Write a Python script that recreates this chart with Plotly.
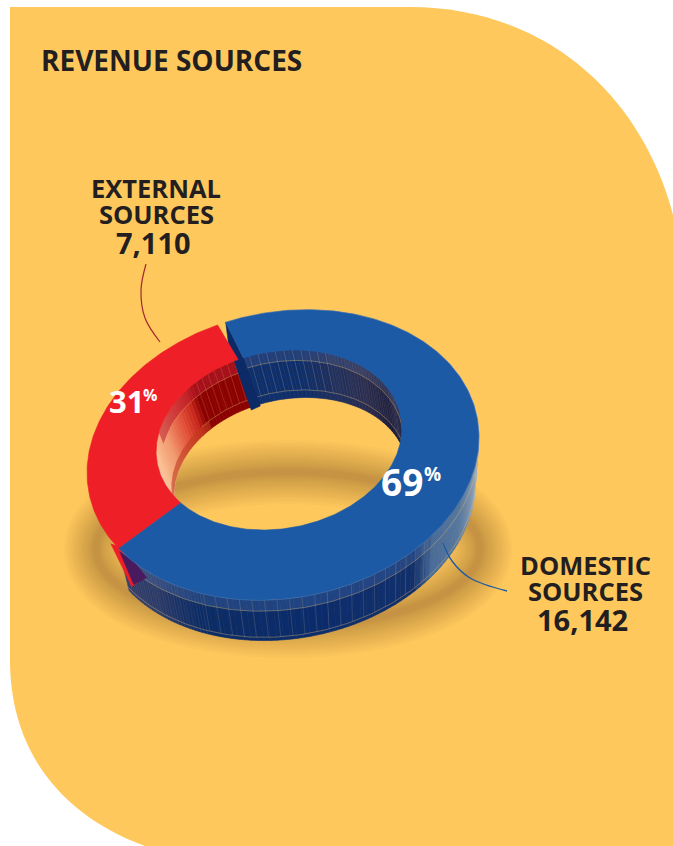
import numpy as np
import plotly.graph_objects as go

# Revenue by source
categories = ["EXTERNAL<br>SOURCES", "DOMESTIC<br>SOURCES"]
revenue = [7110, 16142]
slice_colors = ["#EE1F27", "#1C5AA6"]
title_text = "REVENUE SOURCES"

PAGE_W, PAGE_H = 673, 846
PANEL = "#FEC85D"
INK = "#231F20"

# Ring geometry: tilted ellipses for the top face and the receding lower edges
TILT = np.radians(11)
OUTER = dict(cx=283, cy=455, a=197.7, b=143)
HOLE = dict(cx=279, cy=440, a=124, b=88.5)
OUTER_LOW = dict(cx=287, cy=501, a=189.8, b=137.3)
HOLE_LOW = dict(cx=291, cy=483, a=117.8, b=84)
START_DEG = 99
SLICE_GAP_DEG = 2.5

share = [v / sum(revenue) for v in revenue]
boundary = START_DEG + share[0] * 360  # where the first slice meets the second


def warp(deg):
    # Perspective compresses the far side of the ring slightly
    d = np.asarray(deg, dtype=float)
    return d - 6 * np.sin(np.radians(d - START_DEG) / 2) ** 2


def ring_xy(e, deg, use_warp=False):
    d = warp(deg) if use_warp else np.asarray(deg, dtype=float)
    t = np.radians(d)
    u, v = e["a"] * np.cos(t), e["b"] * np.sin(t)
    x = e["cx"] + u * np.cos(TILT) - v * np.sin(TILT)
    y = e["cy"] - (u * np.sin(TILT) + v * np.cos(TILT))
    return x, y


def blend(stops, deg):
    keys = [s[0] for s in stops]
    rgb = [tuple(int(s[1][i:i + 2], 16) for i in (1, 3, 5)) for s in stops]
    order = np.argsort(keys)
    keys = np.array(keys)[order]
    chans = np.array(rgb)[order]
    c = [int(np.interp(deg, keys, chans[:, i])) for i in range(3)]
    return f"rgb({c[0]},{c[1]},{c[2]})"


fig = go.Figure()


def poly(x, y, fill, line=None, width=0.6):
    fig.add_trace(go.Scatter(x=list(x), y=list(y), mode="lines", fill="toself",
                             fillcolor=fill, line=dict(color=line or fill, width=width),
                             hoverinfo="skip", showlegend=False))


def stroke(x, y, color, width=0.7, shape="linear"):
    fig.add_trace(go.Scatter(x=list(x), y=list(y), mode="lines",
                             line=dict(color=color, width=width, shape=shape),
                             hoverinfo="skip", showlegend=False))


def wall(top, low, d0, d1, stops, step=2.0):
    # Curved side of the ring, shaded strip by strip
    ds = np.arange(d0, d1, step if d1 > d0 else -step)
    for a, b in zip(ds[:-1], ds[1:]):
        xa, ya = ring_xy(top, a); xb, yb = ring_xy(top, b)
        xc, yc = ring_xy(low, b); xd, yd = ring_xy(low, a)
        poly([xa, xb, xc, xd, xa], [ya, yb, yc, yd, ya], blend(stops, (a + b) / 2))


def band(top, low, d0, d1, f0, f1, color):
    ds = np.linspace(d0, d1, 120)
    xt, yt = ring_xy(top, ds); xl, yl = ring_xy(low, ds)
    x0, y0 = xt + (xl - xt) * f0, yt + (yl - yt) * f0
    x1, y1 = xt + (xl - xt) * f1, yt + (yl - yt) * f1
    poly(np.r_[x0, x1[::-1], x0[0]], np.r_[y0, y1[::-1], y0[0]], color, line="rgba(0,0,0,0)", width=0)


def seam(top, low, d0, d1, f, color, width=0.7):
    ds = np.linspace(d0, d1, 120)
    xt, yt = ring_xy(top, ds); xl, yl = ring_xy(low, ds)
    stroke(xt + (xl - xt) * f, yt + (yl - yt) * f, color, width)


def ticks(top, low, degs, f0, f1, color):
    xs, ys = [], []
    for d in degs:
        xt, yt = ring_xy(top, d); xl, yl = ring_xy(low, d)
        xs += [xt + (xl - xt) * f0, xt + (xl - xt) * f1, None]
        ys += [yt + (yl - yt) * f0, yt + (yl - yt) * f1, None]
    stroke(xs, ys, color, 0.6)


GOLD = "rgba(226,192,112,0.55)"

# Inner wall of the first slice, from deep red near the cut to pale peach
red_inner = [(99, "#8B0000"), (126, "#8B0000"), (132, "#C9281F"), (140, "#E2503A"),
             (155, "#F29A72"), (172, "#FBBF93"), (190, "#F7CBB0"), (218, "#F5C49A")]
wall(HOLE, HOLE_LOW, 99, 218, red_inner, step=2.0)
band(HOLE, HOLE_LOW, 99, 160, 0, 0.26, "rgba(190,30,50,0.55)")
band(HOLE, HOLE_LOW, 125, 195, 0.84, 1.0, "rgba(190,60,30,0.6)")
seam(HOLE, HOLE_LOW, 99, 150, 0.26, GOLD)
seam(HOLE, HOLE_LOW, 99, 130, 0.84, GOLD)
ticks(HOLE, HOLE_LOW, np.arange(100, 128, 3.5), 0.0, 0.84, "rgba(226,150,112,0.4)")

# Inner wall of the second slice
blue_inner = [(99, "#10306E"), (75, "#0F2F6C"), (58, "#20305E"), (40, "#2A2C50"),
              (22, "#1A1A3C"), (8, "#23264A"), (-12, "#3A3A55")]
wall(HOLE, HOLE_LOW, 100, -12, blue_inner, step=2.0)
band(HOLE, HOLE_LOW, 99, -10, 0, 0.22, "rgba(120,140,190,0.18)")
seam(HOLE, HOLE_LOW, 99, -8, 0.22, GOLD)
seam(HOLE, HOLE_LOW, 99, -8, 0.84, GOLD)
ticks(HOLE, HOLE_LOW, np.arange(60, 98, 4.0), 0.0, 0.84, "rgba(200,200,170,0.3)")
ticks(HOLE, HOLE_LOW, np.arange(12, 60, 1.6), 0.0, 0.84, "rgba(170,170,170,0.16)")

# Outer wall of the second slice, lit towards the right-hand end
blue_outer = [(25, "#D2D4DA"), (-6, "#C6CAD3"), (-18, "#8FA2BE"), (-34, "#56789F"),
              (-48, "#4A6C98"), (-56, "#12306C"), (-90, "#0B2C6C"), (-125, "#0D2C66"),
              (-140, "#2A3968"), (-155, "#303C68")]
end_deg = float(warp(boundary)) - 360
wall(OUTER, OUTER_LOW, 25, end_deg - 1, blue_outer, step=2.0)
band(OUTER, OUTER_LOW, -50, end_deg, 0, 0.27, "rgba(90,130,190,0.28)")
seam(OUTER, OUTER_LOW, -5, end_deg, 0.27, GOLD)
seam(OUTER, OUTER_LOW, -5, end_deg, 0.92, GOLD)
ticks(OUTER, OUTER_LOW, np.arange(-122, -50, 3.7), 0.0, 0.92, "rgba(210,200,160,0.28)")
ticks(OUTER, OUTER_LOW, np.arange(end_deg, -122, 1.1), 0.0, 1.0, "rgba(190,190,200,0.14)")

# Cut face where the second slice begins
cx0, cy0 = ring_xy(OUTER, START_DEG)
hx0, hy0 = ring_xy(HOLE, START_DEG)
lx0, ly0 = ring_xy(HOLE_LOW, START_DEG + 3)
poly([cx0, cx0 + 3, lx0, lx0 + 9, hx0, cx0], [cy0, cy0 + 23, ly0 + 3, ly0 - 1, hy0, cy0], "#0C2A66")

# Lower tip of the first slice, showing past the second slice's wall
rx1, ry1 = ring_xy(OUTER, boundary, use_warp=True)
poly([rx1 - 8, rx1 + 13, rx1 + 19, rx1 + 1], [ry1 - 5, ry1 + 38, ry1 + 34, ry1 - 2], slice_colors[0])
poly([rx1 + 1, rx1 + 15, rx1 + 28, rx1 + 15], [ry1 + 3, ry1 + 36, ry1 + 29, ry1 + 13], "#4A1A5E")

# Top faces of both slices
ds0 = np.linspace(START_DEG + SLICE_GAP_DEG, boundary, 120)
ox, oy = ring_xy(OUTER, ds0, True)
ix, iy = ring_xy(HOLE, ds0)
poly(np.r_[ox, ix[::-1], ox[0]], np.r_[oy, iy[::-1], oy[0]], slice_colors[0])

ds1 = np.linspace(boundary, START_DEG + 360, 300)
ox, oy = ring_xy(OUTER, ds1, True)
ix, iy = ring_xy(HOLE, ds1)
poly(np.r_[ox, ix[::-1], ox[0]], np.r_[oy, iy[::-1], oy[0]], slice_colors[1])
stroke(ox, oy, "rgba(150,170,200,0.35)", 0.5)

# Leader lines from the labels to the ring
stroke([146, 141, 145, 160], [264, 290, 318, 342], "#A2272E", 1.2, "spline")
stroke([443, 452, 470, 507], [543, 561, 578, 591], slice_colors[1], 1.3, "spline")

panel_path = ("M 10 7 L 410 7 C 540 7 640 90 673 215 L 673 846 L 145 846 "
              "C 60 815 10 750 10 660 Z")

# Soft ground shadow: one closed ellipse stroked repeatedly at growing widths
shadow_widths = 6 + 58 * np.linspace(0, 1, 16) ** 1.25
shadow_shapes = [
    dict(type="circle", xref="x", yref="y", layer="below",
         x0=288 - 192, x1=288 + 192, y0=549 - 77, y1=549 + 77,
         fillcolor="rgba(0,0,0,0)",
         line=dict(color="rgba(100,60,20,0.026)", width=float(w)))
    for w in shadow_widths
]


def label(x, y, text, size, color=INK, anchor="center", font="Open Sans"):
    return dict(x=x, y=y, text=text, showarrow=False, xanchor=anchor, yanchor="middle",
                font=dict(family=font, size=size, color=color, weight=700))


def stacked(cx, y0, name, value):
    parts = name.split("<br>")
    out = [label(cx, y0 + i * 26, p, 25.5) for i, p in enumerate(parts)]
    out.append(label(cx - 3, y0 + 54, f"{value:,}", 29))
    return out


pct = [round(s * 100) for s in share]
annotations = [label(39, 60, title_text, 28, anchor="left")]
annotations += stacked(156, 188, categories[0], revenue[0])
annotations += stacked(585, 565, categories[1], revenue[1])
annotations += [
    label(126, 401, str(pct[0]), 31, "white"),
    label(150, 395, "%", 16, "white"),
    label(402, 481, str(pct[1]), 37, "white"),
    label(432, 474, "%", 19, "white"),
]

fig.update_layout(
    width=PAGE_W, height=PAGE_H,
    margin=dict(l=0, r=0, t=0, b=0),
    paper_bgcolor="white", plot_bgcolor="rgba(0,0,0,0)",
    showlegend=False,
    xaxis=dict(range=[0, PAGE_W], visible=False, fixedrange=True),
    yaxis=dict(range=[PAGE_H, 0], visible=False, fixedrange=True),
    shapes=[dict(type="path", path=panel_path, xref="x", yref="y", layer="below",
                 fillcolor=PANEL, line=dict(width=0))] + shadow_shapes,
    annotations=annotations,
)

fig.write_html("out.html", config=dict(displayModeBar=False))
